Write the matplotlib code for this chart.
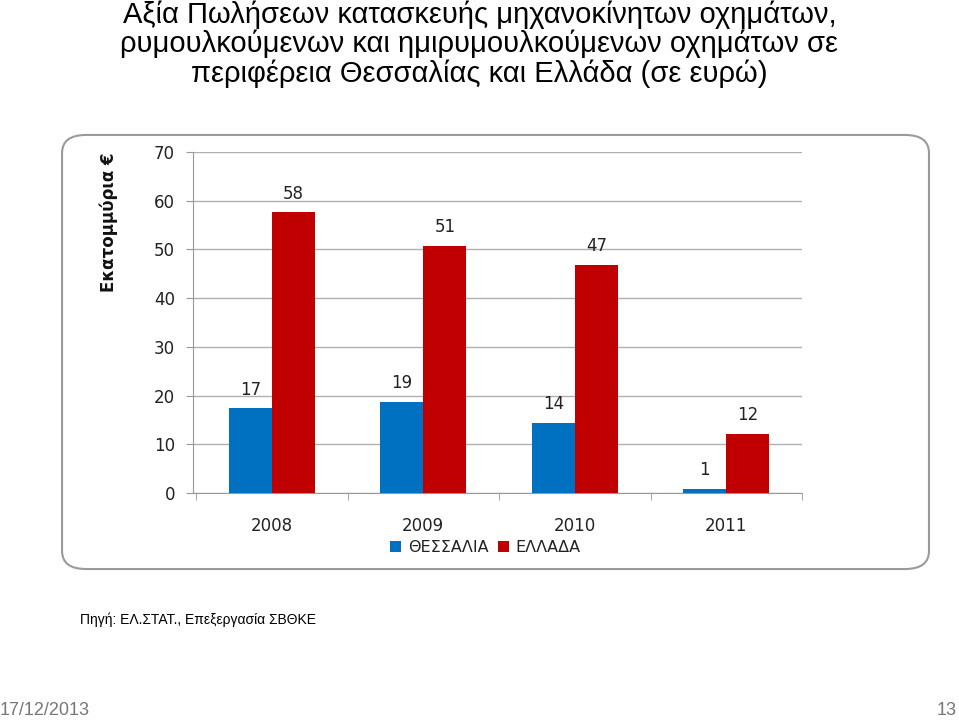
import matplotlib.pyplot as plt
import numpy as np
from matplotlib.patches import FancyBboxPatch

# data (millions of euro)
years = ['2008', '2009', '2010', '2011']
thessaly = [17.4, 18.7, 14.4, 0.8]
greece = [57.6, 50.7, 46.8, 12.1]
series_names = ['ΘΕΣΣΑΛΙΑ', 'ΕΛΛΑΔΑ']
colors = ['#0070C0', '#C00000']

title = ('Αξία Πωλήσεων κατασκευής μηχανοκίνητων οχημάτων,\n'
         'ρυμουλκούμενων και ημιρυμουλκούμενων οχημάτων σε\n'
         'περιφέρεια Θεσσαλίας και Ελλάδα (σε ευρώ)')

plt.rcParams['font.family'] = ['DejaVu Sans']

fig = plt.figure(figsize=(9.59, 7.21), dpi=100)

# rounded chart frame
frame = FancyBboxPatch((0.0647, 0.2108), 0.904, 0.602,
                       boxstyle='round,pad=0,rounding_size=0.025',
                       transform=fig.transFigure, facecolor='white',
                       edgecolor='#9a9a9a', linewidth=1.5, zorder=-1)
fig.patches.append(frame)

ax = fig.add_axes([0.2013, 0.3162, 0.635, 0.473])
ax.set_facecolor('none')

x = np.arange(len(years))
w = 0.285
b1 = ax.bar(x - w / 2, thessaly, w, color=colors[0], label=series_names[0], zorder=3)
b2 = ax.bar(x + w / 2, greece, w, color=colors[1], label=series_names[1], zorder=3)

for bars, vals in ((b1, thessaly), (b2, greece)):
    for rect, v in zip(bars, vals):
        ax.text(rect.get_x() + rect.get_width() / 2, v + 2.0, str(int(round(v))),
                ha='center', va='bottom', fontsize=12, color='#222222')

ax.set_xlim(-0.52, 3.5)
ax.set_ylim(0, 70)
ax.set_yticks(range(0, 71, 10))
ax.yaxis.grid(True, color='#b0b0b0', linewidth=1, zorder=0)
ax.set_axisbelow(True)

ax.set_xticks(x)
ax.set_xticklabels(years, fontsize=12, color='#222222')
ax.set_xticks(np.arange(-0.5, 3.6, 1), minor=True)
ax.tick_params(axis='x', which='major', length=0, pad=17)
ax.tick_params(axis='x', which='minor', length=5, color='#999999')
ax.tick_params(axis='y', length=5, color='#999999', labelsize=12,
               labelcolor='#222222', pad=8)

for s in ('top', 'right'):
    ax.spines[s].set_visible(False)
ax.spines['left'].set_color('#999999')
ax.spines['bottom'].set_color('#999999')

fig.text(0.113, 0.692, 'Εκατομμύρια €', rotation=90, ha='center', va='center',
         fontsize=12, fontweight='bold', color='#111111')

ax.legend(loc='upper center', bbox_to_anchor=(0.48, -0.095), ncol=2, frameon=False,
          fontsize=11.5, handlelength=0.7, handleheight=0.7, handletextpad=0.4,
          columnspacing=0.6, labelcolor='#222222')

fig.text(0.5, 0.999, title, ha='center', va='top', fontsize=21,
         family=['Liberation Sans', 'DejaVu Sans'], linespacing=1.03)

fig.text(0.083, 0.14, 'Πηγή: ΕΛ.ΣΤΑΤ., Επεξεργασία ΣΒΘΚΕ', ha='left', va='center',
         fontsize=10, family=['Liberation Sans', 'DejaVu Sans'])

fig.text(0.0, 0.015, '17/12/2013', ha='left', va='center', fontsize=13,
         color='#777777', family=['Liberation Sans', 'DejaVu Sans'])
fig.text(0.998, 0.015, '13', ha='right', va='center', fontsize=13,
         color='#777777', family=['Liberation Sans', 'DejaVu Sans'])

fig.savefig('out.png', dpi=100)
